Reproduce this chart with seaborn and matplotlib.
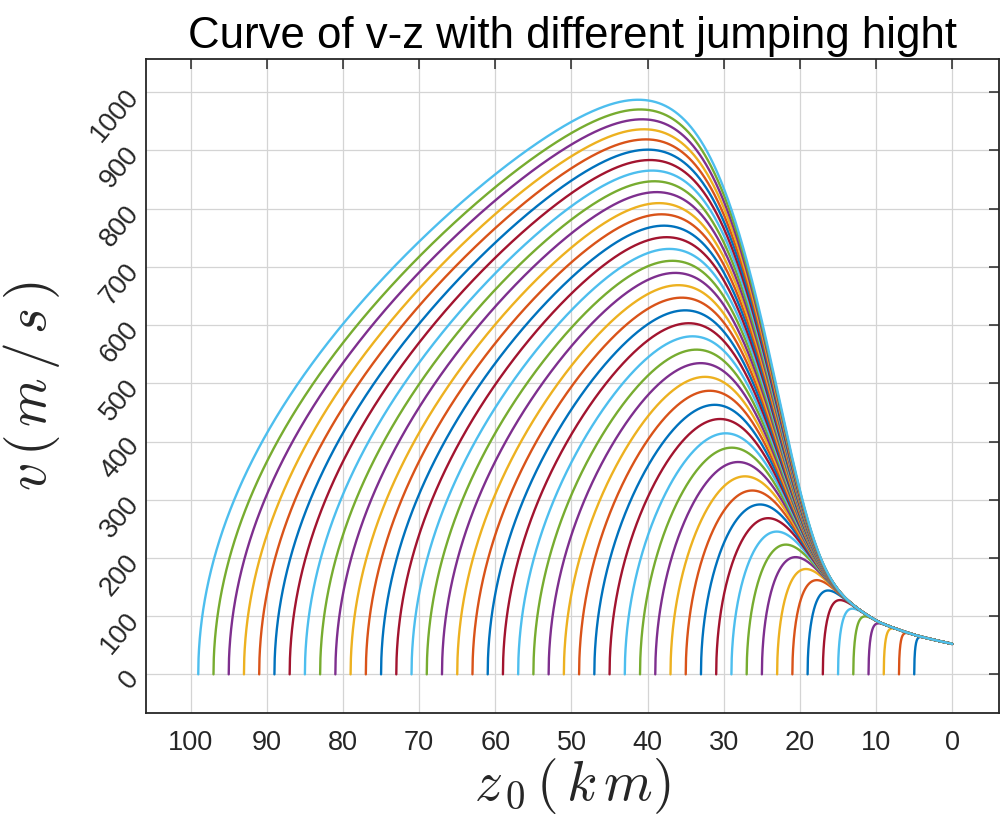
import numpy as np
import pandas as pd
import matplotlib
matplotlib.use("Agg")
import matplotlib.pyplot as plt
import seaborn as sns

# ---------------- data ----------------
# starting (jump) heights of each curve, km  (5, 7, ..., 99)
Z0_KM = [5, 7, 9, 11, 13, 15, 17, 19, 21, 23, 25, 27, 29, 31, 33, 35, 37, 39,
         41, 43, 45, 47, 49, 51, 53, 55, 57, 59, 61, 63, 65, 67, 69, 71, 73,
         75, 77, 79, 81, 83, 85, 87, 89, 91, 93, 95, 97, 99]
# air density profile (standard atmosphere), altitude km -> kg/m^3
ATM_ALT_KM = [0, 5, 10, 15, 20, 25, 30, 35, 40, 45, 50, 55, 60, 65, 70, 75,
              80, 85, 90, 95, 100]
ATM_RHO = [1.225, 0.7364, 0.4135, 0.1948, 0.08891, 0.04008, 0.01841,
           0.008463, 0.003996, 0.001966, 0.001027, 0.0005681, 0.0003097,
           0.0001632, 8.283e-05, 3.992e-05, 1.846e-05, 7.966e-06,
           3.416e-06, 1.393e-06, 5.604e-07]
V_TERMINAL_SEA = 52.0      # m/s, end value of the envelope at z = 0
G0 = 9.81
R_EARTH_KM = 6371.0

X_TICKS = [100, 90, 80, 70, 60, 50, 40, 30, 20, 10, 0]
Y_TICKS = [0, 100, 200, 300, 400, 500, 600, 700, 800, 900, 1000]
MATLAB_COLORS = ["#0072BD", "#D95319", "#EDB120", "#7E2F8E", "#77AC30",
                 "#4DBEEE", "#A2142F"]

# ---------------- integrate v(z) for each jump height ----------------
log_rho = np.log(ATM_RHO)
rho0 = ATM_RHO[0]


def dudz(z_km, u):
    rho = np.exp(np.interp(z_km, ATM_ALT_KM, log_rho))
    g = G0 * (R_EARTH_KM / (R_EARTH_KM + z_km)) ** 2
    return 2 * g - 2 * G0 * (rho / rho0) * u / V_TERMINAL_SEA ** 2


z0 = np.array(Z0_KM, dtype=float)
dz_km = 0.01
h = dz_km * 1000.0
n = int(round(max(Z0_KM) / dz_km))
zgrid = max(Z0_KM) - np.arange(n + 1) * dz_km
U = np.zeros((n + 1, len(z0)))
u = np.zeros(len(z0))
for i in range(n):
    z = zgrid[i]
    active = z <= z0 + 1e-9
    k1 = dudz(z, u)
    k2 = dudz(z - dz_km / 2, u + h / 2 * k1)
    k3 = dudz(z - dz_km / 2, u + h / 2 * k2)
    k4 = dudz(z - dz_km, u + h * k3)
    un = u + h / 6 * (k1 + 2 * k2 + 2 * k3 + k4)
    u = np.where(active, np.maximum(un, 0), 0.0)
    U[i + 1] = u

frames = []
step = 2
for j, zs in enumerate(Z0_KM):
    sel = zgrid <= zs + 1e-9
    zz = zgrid[sel][::step]
    vv = np.sqrt(U[sel, j])[::step]
    frames.append(pd.DataFrame({"z": zz, "v": vv, "curve": j}))
df = pd.concat(frames, ignore_index=True)
palette = [MATLAB_COLORS[j % 7] for j in range(len(Z0_KM))]

# ---------------- plot ----------------
sns.set_theme(style="white")
plt.rcParams["font.family"] = ["Liberation Sans", "DejaVu Sans"]
plt.rcParams["mathtext.fontset"] = "cm"

fig = plt.figure(figsize=(10, 8.16), dpi=100)
ax = fig.add_axes([0.1457, 0.1258, 0.999 - 0.1457, 0.9277 - 0.1258])

sns.lineplot(data=df, x="z", y="v", hue="curve", palette=palette,
             hue_order=list(range(len(Z0_KM))), estimator=None, sort=False,
             legend=False, linewidth=1.7, ax=ax)

ax.set_xlim(105.9, -6.13)
ax.set_ylim(-67.0, 1057.2)
ax.set_xticks(X_TICKS)
ax.set_yticks(Y_TICKS)
ax.set_xticklabels([str(t) for t in X_TICKS])
ax.set_yticklabels([str(t) for t in Y_TICKS])
ax.grid(True, color="#d4d4d4", linewidth=0.9)
ax.set_axisbelow(True)
for s in ax.spines.values():
    s.set_color("#262626")
    s.set_linewidth(1.3)
ax.tick_params(axis="both", direction="in", length=7, width=1.1,
               color="#262626", labelcolor="#262626", labelsize=19.5,
               top=True, right=True)
ax.tick_params(axis="x", pad=12)
for lab in ax.get_yticklabels():
    lab.set_rotation(50)
    lab.set_rotation_mode("anchor")
    lab.set_ha("right")
    lab.set_va("center")
ax.tick_params(axis="y", pad=8)

ax.set_xlabel(r"$z_{\,0}\,(\,k\,m)$", fontsize=40, labelpad=0)
ax.set_ylabel(r"$v\,(\,m\,/\,s\,)$", fontsize=40)
ax.yaxis.set_label_coords(-0.098, 0.5)
ax.set_title("Curve of v-z with different jumping hight", fontsize=31.5,
             pad=8, color="black")

fig.savefig("out.png", dpi=100)
